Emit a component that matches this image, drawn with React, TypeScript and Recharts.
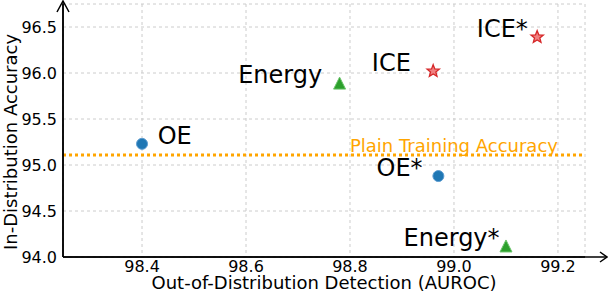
import React from "react";
import {
  ScatterChart,
  Scatter,
  XAxis,
  YAxis,
  CartesianGrid,
  ReferenceLine,
} from "recharts";

// method results: OOD detection AUROC vs in-distribution accuracy
const oePoints = [
  { x: 98.4, y: 95.23 },
  { x: 98.97, y: 94.88 },
];
const energyPoints = [
  { x: 98.78, y: 95.89 },
  { x: 99.1, y: 94.12 },
];
const icePoints = [
  { x: 98.96, y: 96.02 },
  { x: 99.16, y: 96.39 },
];
const plainAccuracy = 95.11;

// text annotations (data coordinates, baseline)
const labels = [
  { x: 98.43, y: 95.23, text: "OE" },
  { x: 98.851, y: 94.88, text: "OE*" },
  { x: 98.585, y: 95.89, text: "Energy" },
  { x: 98.903, y: 94.12, text: "Energy*" },
  { x: 98.842, y: 96.02, text: "ICE" },
  { x: 99.044, y: 96.39, text: "ICE*" },
];
const lineLabel = [{ x: 98.8, y: 95.145, text: "Plain Training Accuracy" }];

const xTicks = [98.4, 98.6, 98.8, 99.0, 99.2];
const yTicks = [94.0, 94.5, 95.0, 95.5, 96.0, 96.5];

const FONT = "DejaVu Sans, sans-serif";

const Circle = (p: any) => (
  <circle cx={p.cx} cy={p.cy} r={5.5} fill="#1f77b4" stroke="#5b9bd0" strokeWidth={1} />
);

const Triangle = (p: any) => {
  const s = 6;
  return (
    <path
      d={`M${p.cx},${p.cy - s} L${p.cx + s},${p.cy + s} L${p.cx - s},${p.cy + s} Z`}
      fill="#2ca02c"
      stroke="#6cc46c"
      strokeWidth={1}
    />
  );
};

const Star = (p: any) => {
  const R = 6.5;
  const r = 2.8;
  let d = "";
  for (let i = 0; i < 10; i++) {
    const rad = i % 2 === 0 ? R : r;
    const a = -Math.PI / 2 + (i * Math.PI) / 5;
    d += `${i === 0 ? "M" : "L"}${p.cx + rad * Math.cos(a)},${p.cy + rad * Math.sin(a)} `;
  }
  return <path d={d + "Z"} fill="#f08080" stroke="#d62728" strokeWidth={1.3} />;
};

const TextMark = (p: any) => (
  <text x={p.cx} y={p.cy} fontSize={24} fontFamily={FONT} fill="#000" textAnchor="start">
    {p.payload.text}
  </text>
);

const OrangeText = (p: any) => (
  <text x={p.cx} y={p.cy} fontSize={18} fontFamily={FONT} fill="#ffa500" textAnchor="start">
    {p.payload.text}
  </text>
);

export default function App() {
  return (
    <div style={{ position: "absolute", left: 0, top: 0, width: 608, height: 294 }}>
      <ScatterChart
        width={608}
        height={294}
        margin={{ top: 4, right: 23, left: 0, bottom: 0 }}
      >
        <CartesianGrid stroke="#cccccc" strokeDasharray="3 3" />
        <XAxis
          type="number"
          dataKey="x"
          domain={[98.248, 99.252]}
          ticks={xTicks}
          tickFormatter={(v: number) => v.toFixed(1)}
          height={37}
          axisLine={{ stroke: "#000", strokeWidth: 1.5 }}
          tickLine={false}
          tickSize={0}
          tickMargin={4}
          tick={{ fill: "#000", fontSize: 16, fontFamily: FONT }}
          allowDataOverflow
        />
        <YAxis
          type="number"
          dataKey="y"
          domain={[94.0, 96.75]}
          ticks={yTicks}
          tickFormatter={(v: number) => v.toFixed(1)}
          width={63}
          axisLine={{ stroke: "#000", strokeWidth: 1.5 }}
          tickLine={false}
          tickSize={0}
          tickMargin={6}
          tick={{ fill: "#000", fontSize: 16, fontFamily: FONT }}
          allowDataOverflow
        />
        <ReferenceLine
          y={plainAccuracy}
          stroke="#ffa500"
          strokeWidth={3}
          strokeDasharray="3 3"
        />
        <Scatter data={oePoints} shape={<Circle />} isAnimationActive={false} />
        <Scatter data={energyPoints} shape={<Triangle />} isAnimationActive={false} />
        <Scatter data={icePoints} shape={<Star />} isAnimationActive={false} />
        <Scatter data={labels} shape={<TextMark />} isAnimationActive={false} />
        <Scatter data={lineLabel} shape={<OrangeText />} isAnimationActive={false} />
      </ScatterChart>
      <svg
        width={608}
        height={294}
        style={{ position: "absolute", left: 0, top: 0, pointerEvents: "none" }}
      >
        <g stroke="#000" strokeWidth={1.5} fill="none">
          <line x1={63} y1={257} x2={63} y2={1} />
          <polyline points="57,12 63,1 69,12" />
          <line x1={63} y1={257} x2={607} y2={257} />
          <polyline points="600,252 607,257 600,262" />
        </g>
        <text
          x={0}
          y={0}
          transform="translate(17,142) rotate(-90)"
          textAnchor="middle"
          fontSize={18}
          fontFamily={FONT}
          fill="#000"
        >
          In-Distribution Accuracy
        </text>
        <text x={324} y={289} textAnchor="middle" fontSize={18} fontFamily={FONT} fill="#000">
          Out-of-Distribution Detection (AUROC)
        </text>
      </svg>
    </div>
  );
}
